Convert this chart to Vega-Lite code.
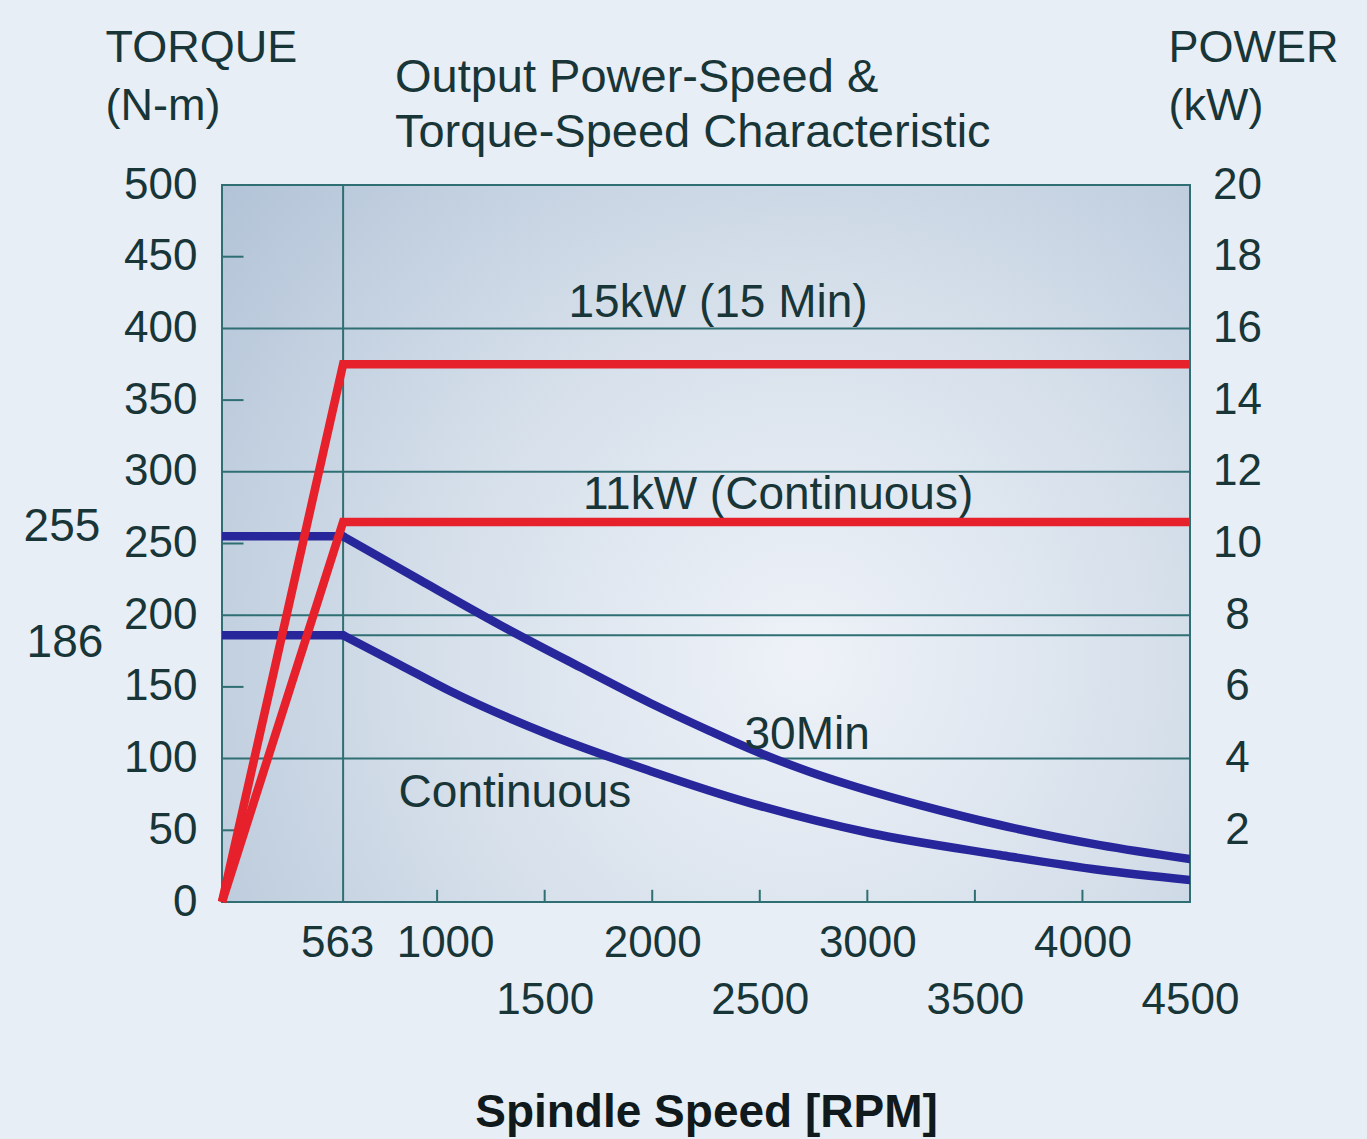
{
  "$schema": "https://vega.github.io/schema/vega-lite/v6.json",
  "width": 968,
  "height": 717,
  "autosize": "none",
  "padding": {"left": 222, "top": 185, "right": 177, "bottom": 237},
  "background": "#e8eef5",
  "config": {
    "view": {"stroke": null},
    "font": "Liberation Sans",
    "text": {"font": "Liberation Sans", "color": "#183538"}
  },
  "datasets": {
    "bg": [{"rpm": 0, "rpm2": 4500, "torque": 0, "torque2": 500}],
    "hgrid": [
      {"torque": 100, "rpm": 0, "rpm2": 4500}, {"torque": 186, "rpm": 0, "rpm2": 4500},
      {"torque": 200, "rpm": 0, "rpm2": 4500}, {"torque": 300, "rpm": 0, "rpm2": 4500},
      {"torque": 400, "rpm": 0, "rpm2": 4500}
    ],
    "vgrid": [{"rpm": 563, "torque": 0, "torque2": 500}],
    "xticks": [
      {"rpm": 1000, "torque": 0, "torque2": 8.5}, {"rpm": 1500, "torque": 0, "torque2": 8.5},
      {"rpm": 2000, "torque": 0, "torque2": 8.5}, {"rpm": 2500, "torque": 0, "torque2": 8.5},
      {"rpm": 3000, "torque": 0, "torque2": 8.5}, {"rpm": 3500, "torque": 0, "torque2": 8.5},
      {"rpm": 4000, "torque": 0, "torque2": 8.5}
    ],
    "yticks": [
      {"torque": 50, "rpm": 0, "rpm2": 100}, {"torque": 150, "rpm": 0, "rpm2": 100},
      {"torque": 250, "rpm": 0, "rpm2": 100}, {"torque": 350, "rpm": 0, "rpm2": 100},
      {"torque": 450, "rpm": 0, "rpm2": 100}
    ],
    "torque": [
      {"series": "30Min", "segment": "constant torque", "rpm": 0, "torque": 255},
      {"series": "30Min", "segment": "constant torque", "rpm": 563, "torque": 255},
      {"series": "30Min", "segment": "constant power", "rpm": 563, "torque": 255},
      {"series": "30Min", "segment": "constant power", "rpm": 920, "torque": 224.5},
      {"series": "30Min", "segment": "constant power", "rpm": 1292, "torque": 193.2},
      {"series": "30Min", "segment": "constant power", "rpm": 1664, "torque": 163.9},
      {"series": "30Min", "segment": "constant power", "rpm": 1990, "torque": 138.8},
      {"series": "30Min", "segment": "constant power", "rpm": 2269, "torque": 119.2},
      {"series": "30Min", "segment": "constant power", "rpm": 2501, "torque": 103.9},
      {"series": "30Min", "segment": "constant power", "rpm": 2734, "torque": 90.7},
      {"series": "30Min", "segment": "constant power", "rpm": 2919, "torque": 81.6},
      {"series": "30Min", "segment": "constant power", "rpm": 3245, "torque": 67.6},
      {"series": "30Min", "segment": "constant power", "rpm": 3617, "torque": 53.7},
      {"series": "30Min", "segment": "constant power", "rpm": 4082, "torque": 39.7},
      {"series": "30Min", "segment": "constant power", "rpm": 4500, "torque": 30},
      {"series": "Continuous", "segment": "constant torque", "rpm": 0, "torque": 186},
      {"series": "Continuous", "segment": "constant torque", "rpm": 563, "torque": 186},
      {"series": "Continuous", "segment": "constant power", "rpm": 563, "torque": 186},
      {"series": "Continuous", "segment": "constant power", "rpm": 828, "torque": 165.3},
      {"series": "Continuous", "segment": "constant power", "rpm": 1060, "torque": 147.1},
      {"series": "Continuous", "segment": "constant power", "rpm": 1525, "torque": 116.5},
      {"series": "Continuous", "segment": "constant power", "rpm": 1990, "torque": 91.4},
      {"series": "Continuous", "segment": "constant power", "rpm": 2455, "torque": 69},
      {"series": "Continuous", "segment": "constant power", "rpm": 3012, "torque": 48.1},
      {"series": "Continuous", "segment": "constant power", "rpm": 3617, "torque": 32.8},
      {"series": "Continuous", "segment": "constant power", "rpm": 4082, "torque": 22.3},
      {"series": "Continuous", "segment": "constant power", "rpm": 4500, "torque": 15.3}
    ],
    "power": [
      {"series": "15 Min", "rpm": 0, "power": 0},
      {"series": "15 Min", "rpm": 563, "power": 15},
      {"series": "15 Min", "rpm": 4500, "power": 15},
      {"series": "Continuous", "rpm": 0, "power": 0},
      {"series": "Continuous", "rpm": 563, "power": 10.6},
      {"series": "Continuous", "rpm": 4500, "power": 10.6}
    ],
    "labels": [
      {"text": "15kW (15 Min)", "rpm": 2306, "torque": 418},
      {"text": "11kW (Continuous)", "rpm": 2585, "torque": 284},
      {"text": "30Min", "rpm": 2720, "torque": 116.5},
      {"text": "Continuous", "rpm": 1362, "torque": 76},
      {"text": "255", "rpm": -744, "torque": 261.5},
      {"text": "186", "rpm": -730, "torque": 180.6}
    ],
    "heading": [
      {"text": "Output Power-Speed &", "rpm": 804, "torque": 574.6},
      {"text": "Torque-Speed Characteristic", "rpm": 804, "torque": 536}
    ]
  },
  "encoding": {
    "x": {
      "field": "rpm", "type": "quantitative",
      "scale": {"domain": [0, 4500], "nice": false, "zero": false},
      "axis": {
        "values": [563, 1000, 1500, 2000, 2500, 3000, 3500, 4000, 4500],
        "format": "d",
        "ticks": false, "domain": false, "grid": false,
        "labelFontSize": 44, "labelColor": "#183538", "labelFont": "Liberation Sans",
        "labelBaseline": "middle", "labelFlush": false, "labelOverlap": false,
        "labelPadding": {"condition": {"test": "datum.value == 1500 || datum.value == 2500 || datum.value == 3500 || datum.value == 4500", "value": 98}, "value": 41},
        "labelOffset": {"condition": [{"test": "datum.value == 563", "value": -6}, {"test": "datum.value == 1000", "value": 8}], "value": 0},
        "title": "Spindle Speed [RPM]",
        "titleFontSize": 46, "titleFontWeight": "bold", "titleColor": "#101a1c", "titleFont": "Liberation Sans",
        "titleY": 210, "titleBaseline": "middle"
      }
    }
  },
  "layer": [
    {
      "encoding": {
        "y": {
          "field": "torque", "type": "quantitative",
          "scale": {"domain": [0, 500], "nice": false},
          "axis": {
            "values": [0, 50, 100, 150, 200, 250, 300, 350, 400, 450, 500],
            "ticks": false, "domain": false, "grid": false,
            "labelFontSize": 44, "labelColor": "#183538", "labelFont": "Liberation Sans",
            "labelPadding": 25, "labelFlush": false, "labelOverlap": false,
            "title": ["TORQUE", "(N-m)"],
            "titleAngle": 0, "titleAlign": "left", "titleBaseline": "top",
            "titleX": -117, "titleY": -160,
            "titleFontSize": 45, "titleFontWeight": "normal", "titleColor": "#183538", "titleFont": "Liberation Sans",
            "titleLineHeight": 58
          }
        }
      },
      "layer": [
        {
          "data": {"name": "bg"},
          "mark": {
            "type": "rect",
            "fill": {
              "gradient": "radial",
              "x1": 0.6, "y1": 0.62, "r1": 0,
              "x2": 0.6, "y2": 0.62, "r2": 0.78,
              "stops": [
                {"offset": 0, "color": "#eef2f8"},
                {"offset": 0.5, "color": "#d5dfea"},
                {"offset": 1, "color": "#b2c3d7"}
              ]
            },
            "stroke": "#2f6f73",
            "strokeWidth": 2
          },
          "encoding": {
            "x2": {"field": "rpm2"},
            "y2": {"field": "torque2"}
          }
        },
        {
          "data": {"name": "hgrid"},
          "mark": {"type": "rule", "color": "#2f6f73", "strokeWidth": 2},
          "encoding": {"x2": {"field": "rpm2"}}
        },
        {
          "data": {"name": "vgrid"},
          "mark": {"type": "rule", "color": "#2f6f73", "strokeWidth": 2},
          "encoding": {"y2": {"field": "torque2"}}
        },
        {
          "data": {"name": "xticks"},
          "mark": {"type": "rule", "color": "#2f6f73", "strokeWidth": 2},
          "encoding": {"y2": {"field": "torque2"}}
        },
        {
          "data": {"name": "yticks"},
          "mark": {"type": "rule", "color": "#2f6f73", "strokeWidth": 2},
          "encoding": {"x2": {"field": "rpm2"}}
        },
        {
          "data": {"name": "torque"},
          "mark": {"type": "line", "color": "#27279b", "strokeWidth": 8.5, "interpolate": "monotone", "strokeCap": "round", "strokeJoin": "round", "clip": true},
          "encoding": {"detail": [{"field": "series"}, {"field": "segment"}]}
        },
        {
          "data": {"name": "labels"},
          "mark": {"type": "text", "fontSize": 46, "align": "center", "baseline": "middle", "color": "#183538"},
          "encoding": {"text": {"field": "text"}}
        },
        {
          "data": {"name": "heading"},
          "mark": {"type": "text", "fontSize": 47, "align": "left", "baseline": "middle", "color": "#183538"},
          "encoding": {"text": {"field": "text"}}
        }
      ]
    },
    {
      "data": {"name": "power"},
      "mark": {"type": "line", "color": "#e6212b", "strokeWidth": 8.5},
      "encoding": {
        "y": {
          "field": "power", "type": "quantitative",
          "scale": {"domain": [0, 20], "nice": false},
          "axis": {
            "orient": "right",
            "values": [2, 4, 6, 8, 10, 12, 14, 16, 18, 20],
            "ticks": false, "domain": false, "grid": false,
            "labelFontSize": 44, "labelColor": "#183538", "labelFont": "Liberation Sans",
            "labelAlign": "center", "labelPadding": 47, "labelFlush": false, "labelOverlap": false,
            "title": ["POWER", "(kW)"],
            "titleAngle": 0, "titleAlign": "left", "titleBaseline": "top",
            "titleX": -22, "titleY": -160,
            "titleFontSize": 45, "titleFontWeight": "normal", "titleColor": "#183538", "titleFont": "Liberation Sans",
            "titleLineHeight": 58
          }
        },
        "detail": {"field": "series"}
      }
    }
  ],
  "resolve": {"scale": {"y": "independent"}}
}
